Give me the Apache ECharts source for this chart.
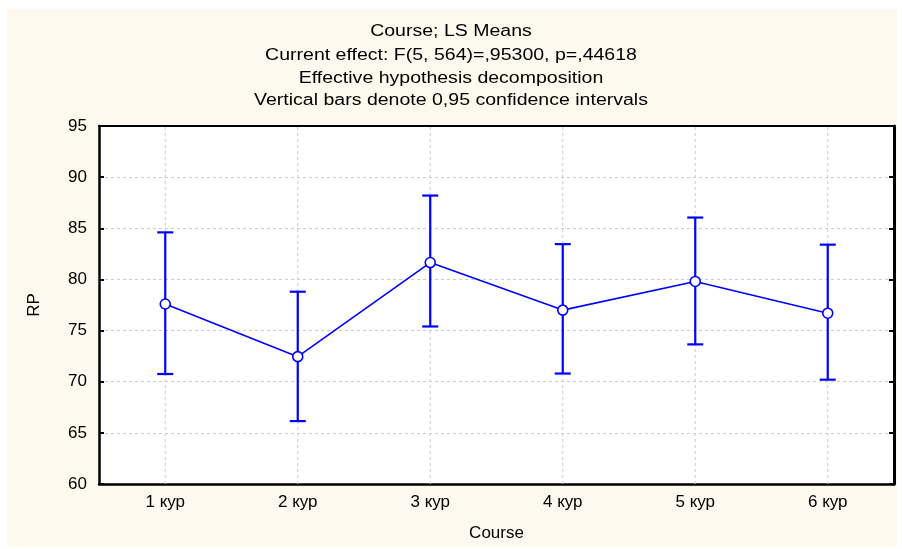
<!DOCTYPE html>
<html>
<head>
<meta charset="utf-8">
<script src="https://cdn.jsdelivr.net/npm/echarts@6/dist/echarts.min.js"></script>
<style>html,body{margin:0;padding:0;background:#fff;}#c{width:902px;height:549px;}</style>
</head>
<body>
<div id="c"></div>
<script>
const categories = ['1 кур', '2 кур', '3 кур', '4 кур', '5 кур', '6 кур'];
const means = [77.6, 72.45, 81.65, 77.0, 79.8, 76.7];
const lower = [70.75, 66.15, 75.4, 70.8, 73.65, 70.2];
const upper = [84.6, 78.8, 88.2, 83.45, 86.05, 83.4];
const yTicks = [60, 65, 70, 75, 80, 85, 90, 95];
const titleLines = [
  'Course; LS Means',
  'Current effect: F(5, 564)=,95300, p=,44618',
  'Effective hypothesis decomposition',
  'Vertical bars denote 0,95 confidence intervals'
];

const FONT = '"Liberation Sans", Arial, sans-serif';
const BLUE = '#0000ff';
const chart = echarts.init(document.getElementById('c'), null, {renderer: 'canvas'});

const titleYs = [32, 56, 79, 101];
const errData = categories.map((c, i) => [i, lower[i], upper[i]]);
const gridData = categories.map((c, i) => [i]);
const yMin = yTicks[0], yMax = yTicks[yTicks.length - 1];

const graphics = [{
  type: 'rect', z: -10, silent: true,
  shape: {x: 7, y: 9, width: 890, height: 538},
  style: {fill: '#fdf9ef'}
}].concat(titleLines.map((t, i) => ({
  type: 'text', x: 451, y: titleYs[i], scaleX: 1.22, scaleY: 1, silent: true,
  style: {text: t, fontFamily: FONT, fontSize: 16, fill: '#000', textAlign: 'center', textVerticalAlign: 'middle'}
})));

chart.setOption({
  animation: false,
  backgroundColor: '#ffffff',
  graphic: graphics,
  grid: {left: 99, right: 8, top: 126, bottom: 65, show: true, backgroundColor: '#ffffff', borderWidth: 0},
  xAxis: [{
    type: 'category', data: categories, position: 'bottom', boundaryGap: true,
    name: 'Course', nameLocation: 'middle', nameGap: 41,
    nameTextStyle: {fontFamily: FONT, fontSize: 17, color: '#000'},
    axisLine: {lineStyle: {color: '#000', width: 2.5}},
    axisTick: {inside: true, alignWithLabel: true, length: 5, lineStyle: {color: '#000', width: 2}},
    axisLabel: {fontFamily: FONT, fontSize: 17, color: '#000', margin: 10},
    splitLine: {show: false}
  }, {
    type: 'category', data: categories, position: 'top', boundaryGap: true,
    axisLine: {lineStyle: {color: '#000', width: 2}},
    axisTick: {inside: true, alignWithLabel: true, length: 5, lineStyle: {color: '#000', width: 2}},
    axisLabel: {show: false}, splitLine: {show: false}
  }],
  yAxis: [{
    type: 'value', min: yMin, max: yMax, interval: 5, position: 'left',
    name: 'RP', nameLocation: 'middle', nameGap: 56, nameRotate: 90,
    nameTextStyle: {fontFamily: FONT, fontSize: 17, color: '#000'},
    axisLine: {show: true, lineStyle: {color: '#000', width: 2.5}},
    axisTick: {show: true, inside: true, length: 5, lineStyle: {color: '#000', width: 2}},
    axisLabel: {fontFamily: FONT, fontSize: 17, color: '#000', margin: 12},
    splitLine: {show: true, lineStyle: {color: '#cccccc', type: [3, 3], width: 1}}
  }, {
    type: 'value', min: yMin, max: yMax, interval: 5, position: 'right',
    axisLine: {show: true, lineStyle: {color: '#000', width: 3}},
    axisTick: {show: true, inside: true, length: 5, lineStyle: {color: '#000', width: 2}},
    axisLabel: {show: false}, splitLine: {show: false}
  }],
  series: [{
    type: 'custom', name: 'vgrid', z: 1, silent: true,
    data: gridData,
    renderItem: function (params, api) {
      const x = api.value(0);
      const a = api.coord([x, yMin]);
      const b = api.coord([x, yMax]);
      return {type: 'line', shape: {x1: a[0], y1: a[1], x2: b[0], y2: b[1]},
        style: {stroke: '#cccccc', lineWidth: 1, lineDash: [3, 3]}};
    }
  }, {
    type: 'custom', name: 'CI', xAxisIndex: 0, yAxisIndex: 0, z: 3,
    data: errData,
    renderItem: function (params, api) {
      const x = api.value(0);
      const lo = api.coord([x, api.value(1)]);
      const hi = api.coord([x, api.value(2)]);
      const w = 8;
      const st = {stroke: BLUE, lineWidth: 2.2, fill: null};
      return {type: 'group', children: [
        {type: 'line', shape: {x1: lo[0], y1: lo[1], x2: hi[0], y2: hi[1]}, style: st},
        {type: 'line', shape: {x1: lo[0] - w, y1: lo[1], x2: lo[0] + w, y2: lo[1]}, style: st},
        {type: 'line', shape: {x1: hi[0] - w, y1: hi[1], x2: hi[0] + w, y2: hi[1]}, style: st}
      ]};
    }
  }, {
    type: 'line', name: 'RP', data: means, z: 4,
    lineStyle: {color: BLUE, width: 1.6},
    itemStyle: {color: '#ffffff', borderColor: BLUE, borderWidth: 1.6},
    symbol: 'circle', symbolSize: 10, showSymbol: true
  }]
});
</script>
</body>
</html>
